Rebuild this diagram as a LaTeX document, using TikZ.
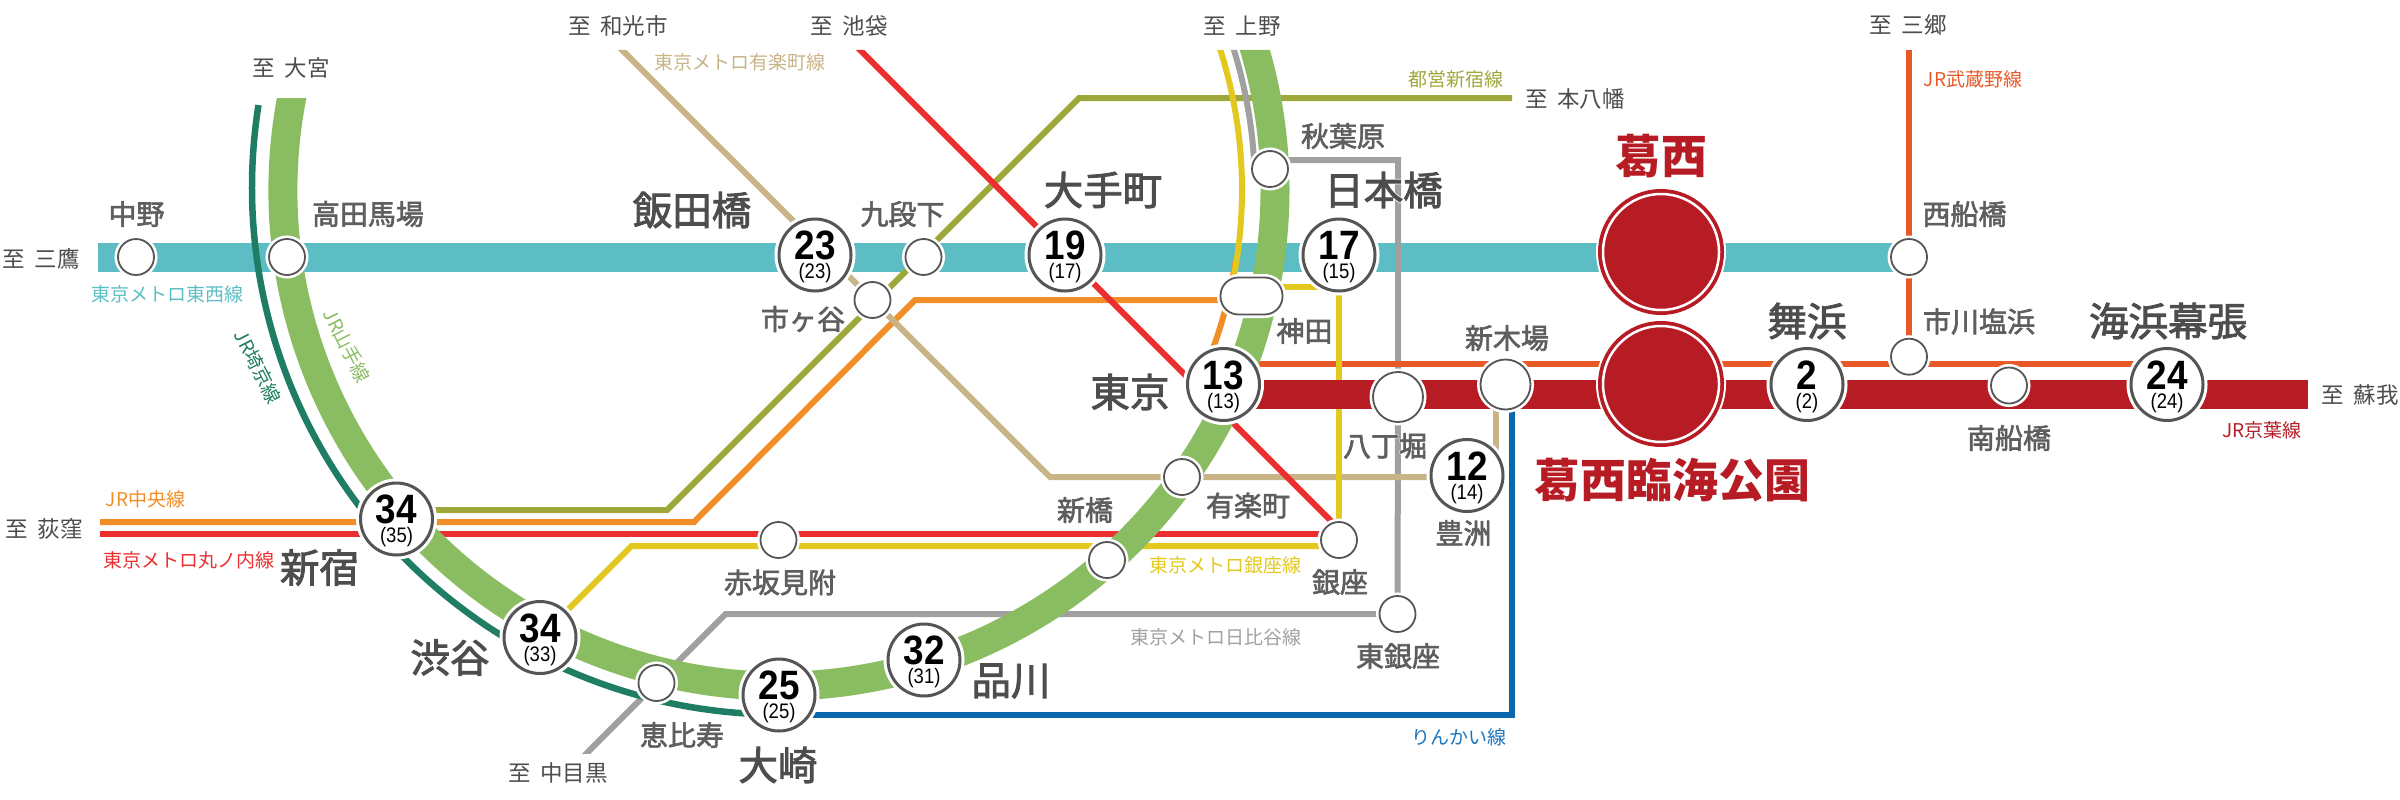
\documentclass[tikz,border=0pt]{standalone}
\usepackage{fontspec}
\usetikzlibrary{calc}
\newfontfamily\jp[WordSpace=1.9]{Noto Sans CJK JP}
\newfontfamily\jpm[FakeBold=2.2]{Noto Sans CJK JP}
\newfontfamily\jphalo[FakeBold=6]{Noto Sans CJK JP}
\newfontfamily\numf[FakeStretch=0.9]{Liberation Sans}
\newfontfamily\numg[FakeStretch=0.88]{Liberation Sans}
\definecolor{ctozai}{HTML}{5DBDC5}
\definecolor{cyama}{HTML}{8ABD61}
\definecolor{csaikyo}{HTML}{1F7D63}
\definecolor{ckeiyo}{HTML}{B71C24}
\definecolor{cmusa}{HTML}{E75A27}
\definecolor{cchuo}{HTML}{F28E27}
\definecolor{cmaru}{HTML}{EB2F2F}
\definecolor{colive}{HTML}{9EA83A}
\definecolor{ctan}{HTML}{C8B487}
\definecolor{cyel}{HTML}{E3C91F}
\definecolor{cgray}{HTML}{A0A0A0}
\definecolor{cblue}{HTML}{0A67AB}
\definecolor{crink}{HTML}{1C75BC}
\definecolor{ctxt}{HTML}{4D4D4D}
\definecolor{cmid}{HTML}{5E5E5E}
\definecolor{cring}{HTML}{555555}
\newcommand{\stnum}[2]{\rlap{\makebox[0pt]{\raisebox{-4.5pt}[0pt][0pt]{\numf\bfseries\fontsize{41}{41}\selectfont #1}}}\makebox[0pt]{\raisebox{-23.5pt}[0pt][0pt]{\numg\fontsize{21}{21}\selectfont (#2)}}}
\newcommand{\halotxt}[1]{\rlap{\color{white}\jphalo #1}#1}
\pgfdeclarelayer{lines}
\pgfsetlayers{lines,main}
\tikzset{
  x=1pt,y=1pt,
  bigst/.style={circle,draw=cring,line width=3pt,fill=white,minimum size=72pt,inner sep=0pt,preaction={draw=white,line width=9pt}},
  smst/.style={circle,draw=cring,line width=1.8pt,fill=white,minimum size=36pt,inner sep=0pt,preaction={draw=white,line width=7pt}},
  midst/.style={circle,draw=cring,line width=1.8pt,fill=white,minimum size=50pt,inner sep=0pt,preaction={draw=white,line width=7pt}},
  kandast/.style={rectangle,rounded corners=18pt,draw=cring,line width=1.8pt,fill=white,minimum width=62pt,minimum height=37pt,inner sep=0pt,preaction={draw=white,line width=7pt}},
  kasaist/.style={circle,draw=white,line width=2.5pt,fill=ckeiyo,minimum size=116pt,inner sep=0pt,preaction={draw=white,line width=14pt},preaction={draw=ckeiyo,line width=10pt}},
  big/.style={inner sep=0pt,text=ctxt,font=\jpm\fontsize{39.5}{39.5}\selectfont},
  mid/.style={inner sep=0pt,text=cmid,font=\jpm\fontsize{28}{28}\selectfont},
  dest/.style={inner sep=0pt,text=ctxt,font=\jp\fontsize{22.5}{22.5}\selectfont},
  lbl/.style={inner sep=0pt,font=\jp\fontsize{19}{19}\selectfont},
  kasaitxt/.style={inner sep=0pt,text=ckeiyo,font=\jp\bfseries\fontsize{46}{46}\selectfont},
  thin/.style={line width=6pt,line join=miter},
  band/.style={line width=29pt},
}
\begin{document}
\begin{tikzpicture}
\useasboundingbox (0,0) rectangle (2400,-800);
% ---- named points
\coordinate (ringc) at (779,-190);
\coordinate (saic) at (779,-187.5);
\coordinate (tozaiL) at (98,-257.5);
\coordinate (tozaiR) at (1909,-257.5);
\coordinate (keiyoL) at (1230,-394.5);
\coordinate (keiyoR) at (2308,-394.5);
\coordinate (musaL) at (1230,-364);
\coordinate (musaR) at (2167,-364);
\coordinate (musaT) at (1909,-50);
\coordinate (musaS) at (1909,-350);
\coordinate (oliveA) at (396,-510);
\coordinate (oliveB) at (667,-510);
\coordinate (oliveC) at (1079,-98);
\coordinate (oliveD) at (1512,-98);
\coordinate (chuoL) at (100,-522);
\coordinate (chuoB) at (694,-522);
\coordinate (chuoC) at (915,-300);
\coordinate (chuoD) at (1240,-300);
\coordinate (maruL) at (100,-534);
\coordinate (maruR) at (1339,-534);
\coordinate (maruT) at (855,-45);
\coordinate (maruM) at (1339,-529);
\coordinate (tanT) at (617,-45);
\coordinate (tanB) at (1050,-477);
\coordinate (tanE) at (1467,-477);
\coordinate (tanU) at (1496,-395);
\coordinate (tanD) at (1496,-460);
\coordinate (yelB) at (631.6,-546);
\coordinate (yelC) at (1339,-546);
\coordinate (yelK) at (1339,-255);
\coordinate (yelM) at (1339,-287);
\coordinate (yelN) at (1260,-287);
\coordinate (hibA) at (1398,-160);
\coordinate (hibB) at (1270,-160);
\coordinate (hibC) at (725.5,-614);
\coordinate (hibD) at (580,-760);
\coordinate (rinkA) at (779,-715);
\coordinate (rinkB) at (1512,-715);
\coordinate (rinkC) at (1512,-400);
% ---- stations
\node[bigst] (iidabashi) at (815,-255) {\stnum{23}{23}};
\node[bigst] (otemachi) at (1065,-255) {\stnum{19}{17}};
\node[bigst] (nihombashi) at (1339,-255) {\stnum{17}{15}};
\node[bigst] (tokyo) at (1223.5,-384.5) {\stnum{13}{13}};
\node[bigst] (toyosu) at (1467,-475.5) {\stnum{12}{14}};
\node[bigst] (shinagawa) at (924,-660) {\stnum{32}{31}};
\node[bigst] (osaki) at (779,-695) {\stnum{25}{25}};
\node[bigst] (shibuya) at (540,-637.5) {\stnum{34}{33}};
\node[bigst] (shinjuku) at (396.5,-519) {\stnum{34}{35}};
\node[bigst] (maihama) at (1807,-384.5) {\stnum{2}{2}};
\node[bigst] (makuhari) at (2167,-384.5) {\stnum{24}{24}};
\node[smst] (nakano) at (136,-257) {};
\node[smst] (takadanobaba) at (287,-257) {};
\node[smst] (kudanshita) at (923.5,-257) {};
\node[smst] (ichigaya) at (872.5,-300) {};
\node[smst] (akihabara) at (1270,-169) {};
\node[smst] (nishifunabashi) at (1909,-257) {};
\node[smst] (shiohama) at (1909,-356.7) {};
\node[smst] (minamifunabashi) at (2009,-385.5) {};
\node[smst] (ginza) at (1339,-540) {};
\node[smst] (yurakucho) at (1182,-477) {};
\node[smst] (shimbashi) at (1107,-560) {};
\node[smst] (higashiginza) at (1397.5,-614) {};
\node[smst] (ebisu) at (656.5,-683) {};
\node[smst] (akasaka) at (778.5,-540) {};
\node[midst] (hatchobori) at (1398,-397) {};
\node[midst] (shinkiba) at (1505.5,-384.5) {};
\node[kandast] (kanda) at (1251.5,-296) {};
\node[kasaist] (kasai) at (1661,-252) {};
\node[kasaist] (kasairinkai) at (1661,-384) {};
% ---- lines
\begin{pgfonlayer}{lines}
\draw[band,ctozai] (tozaiL) -- (tozaiR);
\draw[thin,colive] (oliveA) -- (oliveB) -- (oliveC) -- (oliveD);
\draw[thin,cchuo] (chuoL) -- (chuoB) -- (chuoC) -- (chuoD);
\draw[thin,cchuo] (ringc) ++(-9:462) arc[start angle=-9,end angle=-22,radius=462];
\draw[thin,ctan] (tanU) -- (tanD);
\draw[thin,cgray] (hibB) -- (hibA) -- (hatchobori.center) -- (higashiginza.center);
\begin{scope}
\clip (0,-600) rectangle (1500,-753);
\draw[thin,cgray] (higashiginza.center) -- (hibC) -- (hibD);
\end{scope}
\draw[thin,cblue] (rinkA) -- (rinkB) -- (rinkC);
\draw[thin,cmusa] (musaT) -- (musaS);
\draw[thin,cmusa] (musaL) -- (musaR);
\begin{scope}
\clip (0,-98) -- (450,-98) -- (450,-50) -- (2400,-50) -- (2400,-800) -- (0,-800) -- cycle;
\draw[thin,ctan] (tanT) -- (tanB) -- (tanE);
\draw[thin,cmaru] (maruT) -- (maruM);
\draw[thin,cgray] (ringc) ++(19:476) arc[start angle=19,end angle=2.4,radius=476];
\draw[thin,cyel] (ringc) ++(19:463) arc[start angle=19,end angle=-12,radius=463];
\end{scope}
\draw[thin,cmaru] (maruL) -- (maruR);
\draw[thin,cyel] (shibuya.center) -- (yelB) -- (yelC);
\draw[thin,cyel] (ginza.center) -- (yelK);
\draw[thin,cyel] (yelN) -- (yelM);
\draw[band,ckeiyo] (keiyoL) -- (keiyoR);
\begin{scope}
\clip (0,-98) -- (450,-98) -- (450,-50) -- (2400,-50) -- (2400,-800) -- (0,-800) -- cycle;
\draw[thin,line width=6.5pt,csaikyo] (saic) ++(171:527) arc[start angle=171,end angle=268,radius=527];
\draw[band,cyama] (ringc) ++(168:496) arc[start angle=168,end angle=378,radius=496];
\end{scope}
\end{pgfonlayer}
% ---- texts
\node[dest] (tMitaka) at (41,-259) {至 三鷹};
\node[dest] (tOmiya) at (291,-68) {至 大宮};
\node[dest] (tWako) at (618,-26) {至 和光市};
\node[dest] (tIkebukuro) at (849,-26) {至 池袋};
\node[dest] (tUeno) at (1242,-26) {至 上野};
\node[dest] (tMotoyawata) at (1575,-98.5) {至 本八幡};
\node[dest] (tMisato) at (1908,-25) {至 三郷};
\node[dest] (tSoga) at (2360,-395) {至 蘇我};
\node[dest] (tOgikubo) at (44,-529) {至 荻窪};
\node[dest] (tNakameguro) at (558,-773) {至 中目黒};
\node[lbl,text=ctan] (lYurakucho) at (740,-62) {東京メトロ有楽町線};
\node[lbl,text=colive] (lShinjuku) at (1456,-79) {都営新宿線};
\node[lbl,text=ctozai] (lTozai) at (167,-294) {東京メトロ東西線};
\node[lbl,text=cyama,rotate=-63] (lYama) at (347,-346) {JR山手線};
\node[lbl,text=csaikyo,rotate=-63] (lSaikyo) at (258,-367) {JR埼京線};
\node[lbl,text=cmusa] (lMusashino) at (1973,-79.5) {JR武蔵野線};
\node[lbl,text=ckeiyo] (lKeiyo) at (2262,-430) {JR京葉線};
\node[lbl,text=cyel] (lGinza) at (1225,-565.5) {東京メトロ銀座線};
\node[lbl,text=cgray] (lHibiya) at (1215.5,-637) {東京メトロ日比谷線};
\node[lbl,text=crink] (lRinkai) at (1459,-737) {りんかい線};
\node[lbl,text=cmaru] (lMaru) at (189,-560) {東京メトロ丸ノ内線};
\node[lbl,text=cchuo] (lChuo) at (145.5,-499) {JR中央線};
\node[mid] (nNakano) at (136.5,-214) {中野};
\node[mid] (nTakadanobaba) at (368,-214) {高田馬場};
\node[mid] (nKudanshita) at (902.5,-214) {九段下};
\node[mid] (nIchigaya) at (803,-319) {市ヶ谷};
\node[mid] (nAkihabara) at (1343,-136) {秋葉原};
\node[mid] (nNishifunabashi) at (1964.5,-214) {西船橋};
\node[mid] (nShiohama) at (1979,-321.5) {市川塩浜};
\node[mid] (nMinamifunabashi) at (2009,-438) {南船橋};
\node[mid] (nKanda) at (1304.5,-331) {神田};
\node[mid] (nShinkiba) at (1507,-338) {新木場};
\node[mid] (nHatchobori) at (1385,-446) {\halotxt{八丁堀}};
\node[mid] (nToyosu) at (1463.5,-533) {豊洲};
\node[mid] (nYurakucho) at (1248,-505.5) {有楽町};
\node[mid] (nShimbashi) at (1085,-510) {新橋};
\node[mid] (nGinza) at (1340,-582) {銀座};
\node[mid] (nHigashiginza) at (1398,-656) {東銀座};
\node[mid] (nEbisu) at (682,-735) {恵比寿};
\node[mid] (nAkasaka) at (780,-582.5) {赤坂見附};
\node[big] (nIidabashi) at (692,-210) {飯田橋};
\node[big] (nOtemachi) at (1103,-190) {大手町};
\node[big] (nNihombashi) at (1383.5,-190) {\halotxt{日本橋}};
\node[big] (nTokyo) at (1130,-392) {東京};
\node[big] (nMaihama) at (1807,-321) {舞浜};
\node[big] (nMakuhari) at (2168,-321) {海浜幕張};
\node[big] (nShinagawa) at (1011,-681) {品川};
\node[big] (nOsaki) at (778,-765) {大崎};
\node[big] (nShibuya) at (450,-657.5) {渋谷};
\node[big] (nShinjuku) at (319.5,-567.5) {新宿};
\node[kasaitxt] (nKasai) at (1661,-156) {葛西};
\node[kasaitxt] (nKasaiRinkai) at (1672,-480) {葛西臨海公園};
\end{tikzpicture}
\end{document}
